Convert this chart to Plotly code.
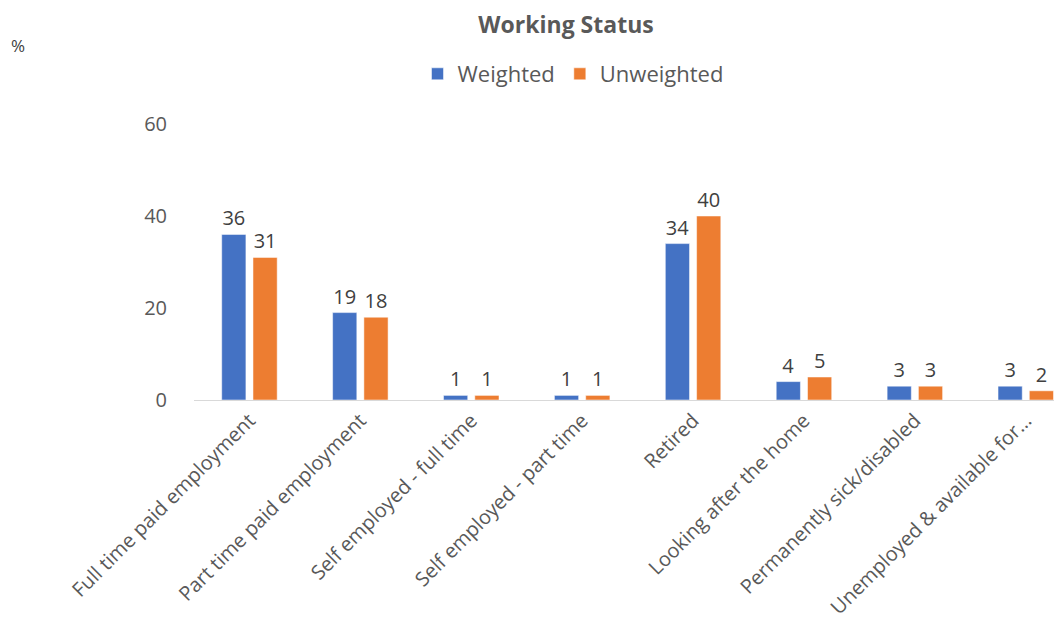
import plotly.graph_objects as go

categories = [
    "Full time paid employment",
    "Part time paid employment",
    "Self employed - full time",
    "Self employed - part time",
    "Retired",
    "Looking after the home",
    "Permanently sick/disabled",
    "Unemployed & available for…",
]
weighted = [36, 19, 1, 1, 34, 4, 3, 3]
unweighted = [31, 18, 1, 1, 40, 5, 3, 2]
y_ticks = [0, 20, 40, 60]

BLUE = "#4472C4"
ORANGE = "#ED7D31"
TXT = "#595959"
FONT = "Open Sans"

# page has an 8px body margin; compensate so the figure lands where the reference is
OFF = 8
W, H = 1062 - 2 * OFF, 630 - 2 * OFF
L, T = 194 - OFF, 124 - OFF
B = H - (400 - OFF)
PW, PH = W - L, H - T - B

fig = go.Figure()
for name, vals, col in [("Weighted", weighted, BLUE), ("Unweighted", unweighted, ORANGE)]:
    fig.add_bar(name=name, x=categories, y=vals, marker_color=col,
                marker_line=dict(color="rgba(255,255,255,0.5)", width=1),
                text=[str(v) for v in vals], textposition="outside",
                textfont=dict(size=20, color="#404040", family=FONT), cliponaxis=False)

fig.update_layout(
    width=W, height=H,
    paper_bgcolor="white", plot_bgcolor="white",
    margin=dict(l=L, r=0, t=T, b=B, autoexpand=False),
    barmode="group", bargap=0.436, bargroupgap=0.226,
    font=dict(family=FONT, color=TXT, size=18),
    title=dict(text="<b>Working Status</b>", x=(566 - OFF) / W, xanchor="center", xref="container",
               y=1 - 17 / H, yanchor="middle", yref="container",
               font=dict(size=23, color=TXT, family=FONT)),
    legend=dict(orientation="h", x=(573 - OFF) / W, xanchor="center", xref="container",
                y=1 - (74 - OFF) / H, yanchor="middle", yref="container",
                font=dict(size=22, color=TXT, family=FONT), itemwidth=30,
                traceorder="normal"),
    xaxis=dict(range=[-0.5, 7.4 - 16 / 110], tickangle=-45, showline=True, linecolor="#D9D9D9",
               linewidth=1, ticks="", automargin=False,
               tickfont=dict(size=20, color=TXT, family=FONT), showgrid=False),
    yaxis=dict(range=[0, 60], tickvals=y_ticks, showgrid=False, zeroline=False,
               showline=False, ticks="", ticklabelstandoff=26, automargin=False,
               tickfont=dict(size=20, color=TXT, family=FONT)),
    annotations=[dict(text="%", x=(18 - 194) / PW, y=(400 - 45) / PH,
                      xref="paper", yref="paper", xanchor="center", yanchor="middle",
                      showarrow=False, font=dict(size=17, color="#404040", family=FONT))],
)

fig.write_html("out.html")
